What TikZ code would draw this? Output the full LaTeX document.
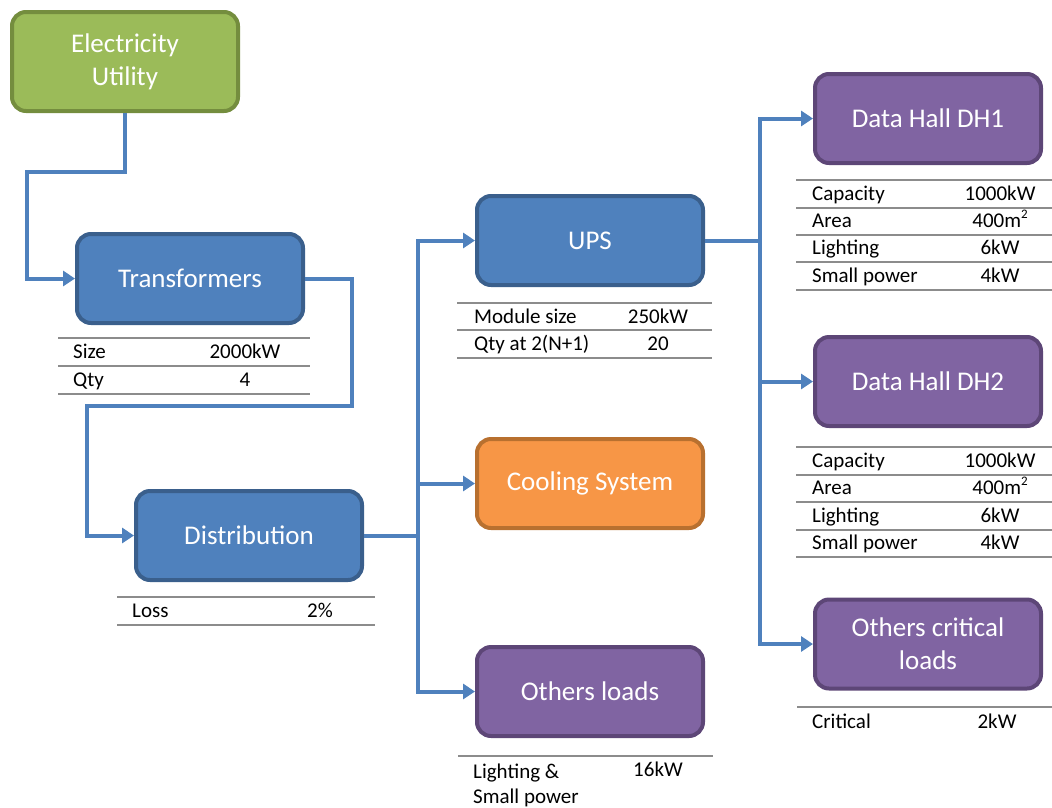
\documentclass[tikz,border=0pt]{standalone}
\usepackage{fontspec}
\setmainfont{Carlito}
\usetikzlibrary{arrows.meta}

\definecolor{feedblue}{HTML}{4F81BD}
\definecolor{blueedge}{HTML}{3A5F8C}
\definecolor{utilgreen}{HTML}{9BBB59}
\definecolor{greenedge}{HTML}{748D3E}
\definecolor{coolorange}{HTML}{F79646}
\definecolor{orangeedge}{HTML}{B8702F}
\definecolor{loadpurple}{HTML}{8064A2}
\definecolor{purpleedge}{HTML}{5D4677}
\definecolor{rulegray}{HTML}{8C8C8C}

\newcommand{\sqm}{m\raisebox{0.9ex}{\fontsize{13}{13}\selectfont 2}}

\begin{document}
\begin{tikzpicture}[x=1pt,y=-1pt,
	block/.style={rounded corners=14pt, line width=4pt, minimum width=226pt, minimum height=89pt,
		inner sep=0pt, text=white, align=center, font=\fontsize{27}{33}\selectfont},
	greenblock/.style={block, fill=utilgreen, draw=greenedge, minimum height=99pt},
	blueblock/.style={block, fill=feedblue, draw=blueedge},
	orangeblock/.style={block, fill=coolorange, draw=orangeedge},
	purpleblock/.style={block, fill=loadpurple, draw=purpleedge},
	feed/.style={draw=feedblue, line width=4pt, -{Triangle[length=12pt,width=15pt]}},
	wire/.style={draw=feedblue, line width=4pt},
	rule/.style={draw=rulegray, line width=1.3pt},
	cell/.style={inner sep=0pt, text height=0.62em, text depth=0pt, font=\fontsize{21}{25}\selectfont},
	key/.style={cell, anchor=west},
	val/.style={cell, anchor=center}]
	\useasboundingbox (0,0) rectangle (1052,807);

	% blocks
	\node [greenblock] (util) at (125,61.5) {Electricity\\Utility};
	\node [blueblock] (trafo) at (190,278.5) {Transformers};
	\node [blueblock] (dist) at (249,535.5) {Distribution};
	\node [blueblock] (ups) at (590,240.5) {UPS};
	\node [orangeblock] (cool) at (590,483.5) {Cooling System};
	\node [purpleblock] (oload) at (590,691.5) {Others loads};
	\node [purpleblock] (dh1) at (928,118.5) {Data Hall DH1};
	\node [purpleblock] (dh2) at (928,381.5) {Data Hall DH2};
	\node [purpleblock] (ocrit) at (928,644) {Others critical\\loads};

	% feeders
	\coordinate (bus1) at (418,535.5);
	\coordinate (bus2) at (760,240.5);
	\draw [feed] (util.south) |- (27,172) |- (trafo.west);
	\draw [feed] (trafo.east) -| (352,406) -- (87,406) |- (dist.west);
	\draw [wire] (dist.east) -- (bus1);
	\draw [feed] (bus1) |- (ups.west);
	\draw [feed] (bus1) -- (bus1 |- cool.west) -- (cool.west);
	\draw [feed] (bus1) |- (oload.west);
	\draw [wire] (ups.east) -- (bus2);
	\draw [feed] (bus2) |- (dh1.west);
	\draw [feed] (bus2) |- (dh2.west);
	\draw [feed] (bus2) |- (ocrit.west);

	% transformers table
	\foreach \y in {338,366,394} \draw [rule] (58,\y) -- (310,\y);
	\node [key] (trafo-k1) at (73,355.5) {Size};
	\node [val] (trafo-v1) at (245,355.5) {2000kW};
	\node [key] (trafo-k2) at (73,383.5) {Qty};
	\node [val] (trafo-v2) at (245,383.5) {4};

	% distribution table
	\foreach \y in {597,625} \draw [rule] (117,\y) -- (375,\y);
	\node [key] (dist-k1) at (132,614.5) {Loss};
	\node [val] (dist-v1) at (320,614.5) {2\%};

	% ups table
	\foreach \y in {303,330,358} \draw [rule] (457,\y) -- (712,\y);
	\node [key] (ups-k1) at (474,320.5) {Module size};
	\node [val] (ups-v1) at (658,320.5) {250kW};
	\node [key] (ups-k2) at (474,347.5) {Qty at 2(N+1)};
	\node [val] (ups-v2) at (658,347.5) {20};

	% other loads table
	\draw [rule] (458,756) -- (713,756);
	\node [inner sep=0pt, anchor=north west, align=left, font=\fontsize{21}{25}\selectfont]
		(oload-k1) at (473,764) {Lighting \&\\Small power};
	\node [val] (oload-v1) at (658,773.5) {16kW};

	% data hall tables
	\foreach \y in {180,208,235,262,290} \draw [rule] (796,\y) -- (1052,\y);
	\node [key] (dh1-k1) at (812,197.5) {Capacity};
	\node [val] (dh1-v1) at (1000,197.5) {1000kW};
	\node [key] (dh1-k2) at (812,224.5) {Area};
	\node [val] (dh1-v2) at (1000,224.5) {400\sqm};
	\node [key] (dh1-k3) at (812,251.5) {Lighting};
	\node [val] (dh1-v3) at (1000,251.5) {6kW};
	\node [key] (dh1-k4) at (812,279.5) {Small power};
	\node [val] (dh1-v4) at (1000,279.5) {4kW};

	\foreach \y in {447,475,502,530,557} \draw [rule] (796,\y) -- (1052,\y);
	\node [key] (dh2-k1) at (812,464.5) {Capacity};
	\node [val] (dh2-v1) at (1000,464.5) {1000kW};
	\node [key] (dh2-k2) at (812,491.5) {Area};
	\node [val] (dh2-v2) at (1000,491.5) {400\sqm};
	\node [key] (dh2-k3) at (812,519.5) {Lighting};
	\node [val] (dh2-v3) at (1000,519.5) {6kW};
	\node [key] (dh2-k4) at (812,546.5) {Small power};
	\node [val] (dh2-v4) at (1000,546.5) {4kW};

	% critical loads table
	\draw [rule] (797,707) -- (1052,707);
	\node [key] (ocrit-k1) at (812,725.5) {Critical};
	\node [val] (ocrit-v1) at (997,725.5) {2kW};
\end{tikzpicture}
\end{document}
